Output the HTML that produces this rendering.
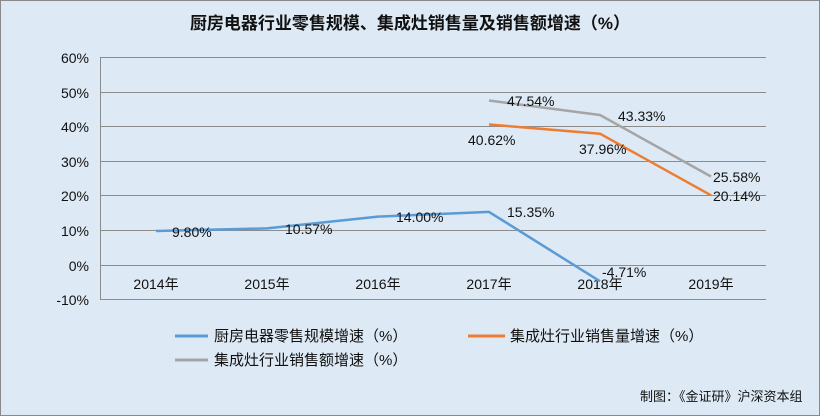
<!DOCTYPE html>
<html><head><meta charset="utf-8"><style>
body{margin:0;background:#fff}
svg{display:block}
text{font-family:"Liberation Sans","Noto Sans CJK SC",sans-serif;fill:#111}
</style></head><body>
<svg width="820" height="416" xmlns="http://www.w3.org/2000/svg">
<rect x="0.5" y="0.5" width="819" height="415" fill="#dde9f5" stroke="#8a8a8a"/>
<text x="410" y="29" font-size="17" font-weight="bold" text-anchor="middle">厨房电器行业零售规模、集成灶销售量及销售额增速（%）</text>
<g stroke="#8c8c8c" stroke-width="1">
<line x1="100" y1="57.5" x2="766" y2="57.5"/>
<line x1="100" y1="92.5" x2="766" y2="92.5"/>
<line x1="100" y1="126.5" x2="766" y2="126.5"/>
<line x1="100" y1="161.5" x2="766" y2="161.5"/>
<line x1="100" y1="195.5" x2="766" y2="195.5"/>
<line x1="100" y1="230.5" x2="766" y2="230.5"/>
<line x1="100" y1="265.5" x2="766" y2="265.5"/>
<line x1="100" y1="299.5" x2="766" y2="299.5"/>
<line x1="100.5" y1="57" x2="100.5" y2="300"/>
</g>
<g font-size="14" text-anchor="end">
<text x="89" y="63">60%</text><text x="89" y="98">50%</text><text x="89" y="132">40%</text>
<text x="89" y="167">30%</text><text x="89" y="201">20%</text><text x="89" y="236">10%</text>
<text x="89" y="271">0%</text><text x="89" y="305">-10%</text>
</g>
<g font-size="14" text-anchor="middle">
<text x="156" y="289">2014年</text><text x="267" y="289">2015年</text><text x="378" y="289">2016年</text>
<text x="489" y="289">2017年</text><text x="600" y="289">2018年</text><text x="711" y="289">2019年</text>
</g>
<g fill="none" stroke-width="2.5" stroke-linejoin="round">
<polyline stroke="#5b9bd5" points="156,231 267,228.4 378,216.6 489,211.9 600,281.3"/>
<polyline stroke="#ed7d31" points="489,124.5 600,133.7 711,195.3"/>
<polyline stroke="#a5a5a5" points="489,100.5 600,115 711,176.5"/>
</g>
<g font-size="14">
<text x="172" y="237">9.80%</text><text x="285" y="234">10.57%</text><text x="396" y="222">14.00%</text>
<text x="507" y="217">15.35%</text><text x="602" y="277">-4.71%</text>
<text x="468" y="145">40.62%</text><text x="579" y="154">37.96%</text><text x="713" y="201">20.14%</text>
<text x="507" y="106">47.54%</text><text x="618" y="121">43.33%</text><text x="713" y="182">25.58%</text>
</g>
<g stroke-width="3">
<line x1="175" y1="336" x2="208" y2="336" stroke="#5b9bd5"/>
<line x1="468" y1="336" x2="505" y2="336" stroke="#ed7d31"/>
<line x1="175" y1="360" x2="208" y2="360" stroke="#a5a5a5"/>
</g>
<g font-size="15">
<text x="214" y="341">厨房电器零售规模增速（%）</text>
<text x="510" y="341">集成灶行业销售量增速（%）</text>
<text x="214" y="365">集成灶行业销售额增速（%）</text>
</g>
<text x="640" y="401" font-size="13" fill="#333">制图：《金证研》沪深资本组</text>
</svg>
</body></html>
